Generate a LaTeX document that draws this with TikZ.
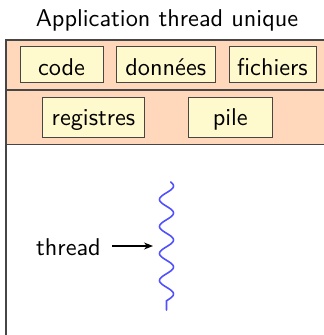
\documentclass[tikz,border=0pt]{standalone}
\usepackage{graphicx}
\usetikzlibrary{arrows.meta}
\definecolor{peach}{RGB}{255,216,188}
\definecolor{paleyellow}{RGB}{255,250,205}
\definecolor{wire}{RGB}{70,70,70}
\definecolor{threadblue}{RGB}{80,80,255}
\newcommand{\bigsf}[1]{\scalebox{2.43}{#1}}
\tikzset{
  txt/.style={font=\sffamily\fontsize{10}{12}\selectfont, inner sep=0pt, anchor=base},
  part/.style={draw=wire, line width=0.9pt, fill=paleyellow, inner sep=0pt},
  frame/.style={draw=wire, line width=1.1pt}
}
\begin{document}
\begin{tikzpicture}[x=1pt,y=-1pt]
\clip (0,0) rectangle (324,335);
% process frame: shared part, per-thread part, execution area
\fill[peach] (6,40) rectangle (340,144.5);
\draw[frame] (6,90) -- (340,90);
\draw[frame] (6,144.5) -- (340,144.5);
\draw[frame] (6,350) -- (6,40) -- (340,40);
% title
\node[txt] (title) at (167,26) {\bigsf{Application thread unique}};
% shared resources
\node[part, minimum width=83pt, minimum height=36pt] (code) at (61.5,64.5) {};
\node[part, minimum width=98.5pt, minimum height=36pt] (data) at (165.75,64.5) {};
\node[part, minimum width=87pt, minimum height=36pt] (files) at (272.5,64.5) {};
\node[txt] (codeT) at (61.5,75) {\bigsf{code}};
\node[txt] (dataT) at (165.75,75) {\bigsf{données}};
\node[txt] (filesT) at (272.5,75) {\bigsf{fichiers}};
% per-thread resources
\node[part, minimum width=101.5pt, minimum height=40pt] (regs) at (93.5,117.25) {};
\node[part, minimum width=84pt, minimum height=40pt] (stack) at (230.25,117.25) {};
\node[txt] (regsT) at (93.5,125) {\bigsf{registres}};
\node[txt] (stackT) at (230.25,125) {\bigsf{pile}};
% the thread itself
\draw[threadblue, line width=1.6pt, line cap=round]
  plot[domain=182:300.75, samples=120] ({166.5+7*cos((\x-186)*13.3333)}, \x)
  -- (166.5,310);
\node[txt, anchor=base east] (thr) at (101,255) {\bigsf{thread}};
\coordinate (tip) at (153,246);
\draw[-{Stealth[length=9pt,width=7pt]}, line width=1.2pt] ([xshift=11pt]thr.east |- tip) -- (tip);
\end{tikzpicture}
\end{document}
